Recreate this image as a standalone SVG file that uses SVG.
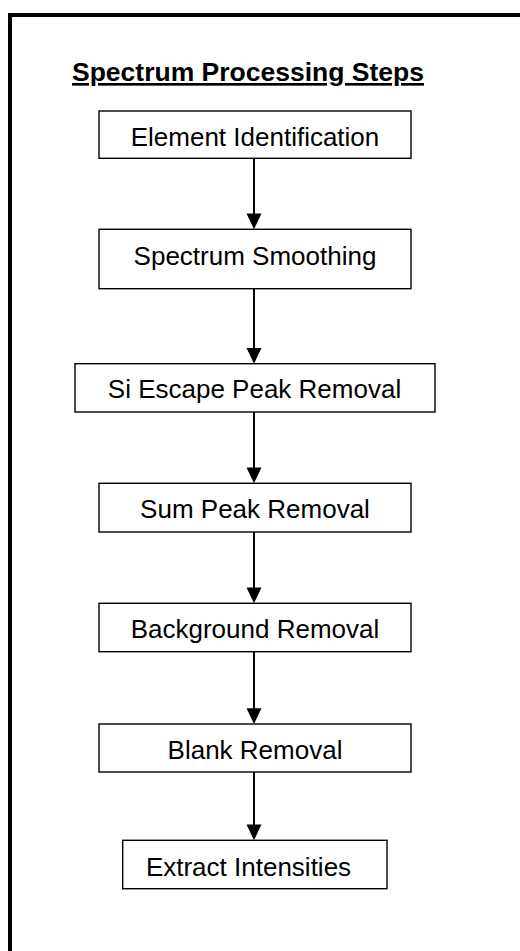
<svg xmlns="http://www.w3.org/2000/svg" width="520" height="951" viewBox="0 0 520 951">
<style>
.box{fill:#fff;stroke:#000;stroke-width:1.4}
.lbl{font-family:"Liberation Sans",Arial,sans-serif;font-size:26px;fill:#000;text-anchor:middle}
.title{font-family:"Liberation Sans",Arial,sans-serif;font-size:26.5px;font-weight:bold;fill:#000;text-anchor:middle;text-decoration:underline}
.conn{stroke:#000;stroke-width:2;fill:none}
.head{fill:#000}
</style>
<rect width="520" height="951" fill="#fff"/>
<path d="M10,951 V15 H520" fill="none" stroke="#000" stroke-width="4"/>
<text class="title" x="248" y="81">Spectrum Processing Steps</text>
<g id="connectors">
<line class="conn" x1="254" y1="158" x2="254" y2="215"/>
<polygon class="head" points="246.5,213.5 261.5,213.5 254,229.3"/>
<line class="conn" x1="254" y1="289" x2="254" y2="350"/>
<polygon class="head" points="246.5,348 261.5,348 254,363.7"/>
<line class="conn" x1="254" y1="412" x2="254" y2="469"/>
<polygon class="head" points="246.5,467.5 261.5,467.5 254,483.3"/>
<line class="conn" x1="254" y1="532" x2="254" y2="589"/>
<polygon class="head" points="246.5,587.5 261.5,587.5 254,603.3"/>
<line class="conn" x1="254" y1="652" x2="254" y2="710"/>
<polygon class="head" points="246.5,708.2 261.5,708.2 254,724"/>
<line class="conn" x1="254" y1="772" x2="254" y2="826"/>
<polygon class="head" points="246.5,824.5 261.5,824.5 254,840.3"/>
</g>
<g id="n1"><rect class="box" x="99" y="111" width="312" height="47.3"/><text class="lbl" x="255" y="145.7">Element Identification</text></g>
<g id="n2"><rect class="box" x="99" y="229.3" width="312" height="59.4"/><text class="lbl" x="255" y="265">Spectrum Smoothing</text></g>
<g id="n3"><rect class="box" x="75" y="363.7" width="360" height="48.3"/><text class="lbl" x="254.5" y="398.3">Si Escape Peak Removal</text></g>
<g id="n4"><rect class="box" x="99" y="483.3" width="312" height="48.7"/><text class="lbl" x="255" y="518.3">Sum Peak Removal</text></g>
<g id="n5"><rect class="box" x="99" y="603.3" width="312" height="48.4"/><text class="lbl" x="255" y="638.3">Background Removal</text></g>
<g id="n6"><rect class="box" x="99" y="724" width="312" height="48"/><text class="lbl" x="255" y="759.3">Blank Removal</text></g>
<g id="n7"><rect class="box" x="122.7" y="840.3" width="264.3" height="48.4"/><text class="lbl" x="248.5" y="875.7">Extract Intensities</text></g>
</svg>
